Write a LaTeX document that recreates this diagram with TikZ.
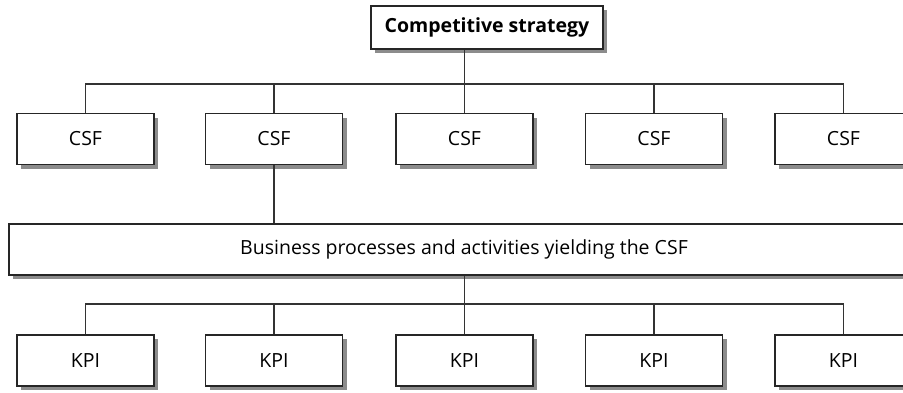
\documentclass[tikz,border=0pt]{standalone}
\usepackage{fontspec}
\setmainfont{Open Sans}
\usetikzlibrary{shadows}
\begin{document}
\begin{tikzpicture}[x=1pt,y=-1pt,
  box/.style={draw=black!85, line width=1.1pt, fill=white, inner sep=0pt,
    minimum width=137pt, minimum height=51pt, font=\fontsize{19.5}{22}\selectfont,
    drop shadow={shadow xshift=4pt, shadow yshift=-4pt, fill=black!45, opacity=1}},
  link/.style={draw=black!80, line width=1.1pt}]
\useasboundingbox (0,0) rectangle (903,392);
\clip (0,0) rectangle (903,392);
\fill[white] (0,0) rectangle (903,392);

% top level
\node[box, minimum width=232pt, minimum height=43pt, font=\fontsize{19.5}{22}\selectfont\bfseries] (top) at (487,27.5) {Competitive strategy};

% critical success factors
\foreach \i/\x in {1/85.5, 2/274, 3/464.5, 4/654, 5/843.5}
  \node[box] (csf\i) at (\x,139) {CSF};

% business processes
\node[box, minimum width=910pt, minimum height=51pt] (bp) at (464,249.5)
  {Business processes and activities yielding the CSF};

% key performance indicators
\foreach \i/\x in {1/85.5, 2/274, 3/464.5, 4/654, 5/843.5}
  \node[box] (kpi\i) at (\x,360.5) {KPI};

% junction rails
\coordinate (j1) at (464.5,84);
\coordinate (j2) at (464.5,304);

\draw[link] (top.south -| j1) -- (j1);
\draw[link] (csf1.north) |- (j1) -| (csf5.north);
\foreach \i in {2,3,4} \draw[link] (csf\i.north) -- (csf\i.north |- j1);
\draw[link] (csf2.south) -- (csf2.south |- bp.north);
\draw[link] (bp.south -| j2) -- (j2);
\draw[link] (kpi1.north) |- (j2) -| (kpi5.north);
\foreach \i in {2,3,4} \draw[link] (kpi\i.north) -- (kpi\i.north |- j2);
\end{tikzpicture}
\end{document}
